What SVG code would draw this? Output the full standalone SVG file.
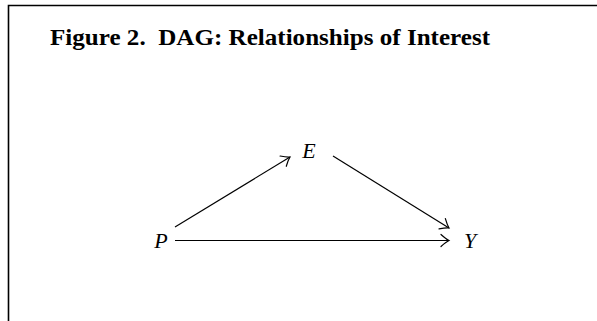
<svg xmlns="http://www.w3.org/2000/svg" width="597" height="321" viewBox="0 0 597 321">
<style>
.title{font-family:"Liberation Serif",serif;font-weight:bold;font-size:23px;fill:#000;white-space:pre}
.lbl{font-family:"Liberation Serif",serif;font-style:italic;font-size:22px;fill:#000}
.edge{stroke:#000;stroke-width:1.2;fill:none}
</style>
<defs>
<marker id="to" markerUnits="userSpaceOnUse" markerWidth="16" markerHeight="16" refX="0" refY="0" viewBox="-10 -8 12 16" orient="auto" overflow="visible">
<path d="M -8 -6 Q -3 -1.5 0 0 Q -3 1.5 -8 6" fill="none" stroke="#000" stroke-width="1.2" stroke-linecap="round"/>
</marker>
</defs>
<rect x="0" y="0" width="597" height="321" fill="#fff"/>
<path d="M 8.5 321 L 8.5 5.5 L 597 5.5" fill="none" stroke="#000" stroke-width="1.6"/>
<text class="title" x="50" y="45" textLength="440" lengthAdjust="spacingAndGlyphs" xml:space="preserve">Figure 2.  DAG: Relationships of Interest</text>
<g id="connectors">
<line class="edge" x1="175" y1="227" x2="290" y2="157" marker-end="url(#to)"/>
<line class="edge" x1="333" y1="156" x2="449" y2="228" marker-end="url(#to)"/>
<line class="edge" x1="175" y1="240.5" x2="449" y2="240.5" marker-end="url(#to)"/>
</g>
<g id="node-E"><text class="lbl" x="309" y="158" text-anchor="middle">E</text></g>
<g id="node-P"><text class="lbl" x="161" y="248" text-anchor="middle">P</text></g>
<g id="node-Y"><text class="lbl" x="470" y="248" text-anchor="middle">Y</text></g>
</svg>
